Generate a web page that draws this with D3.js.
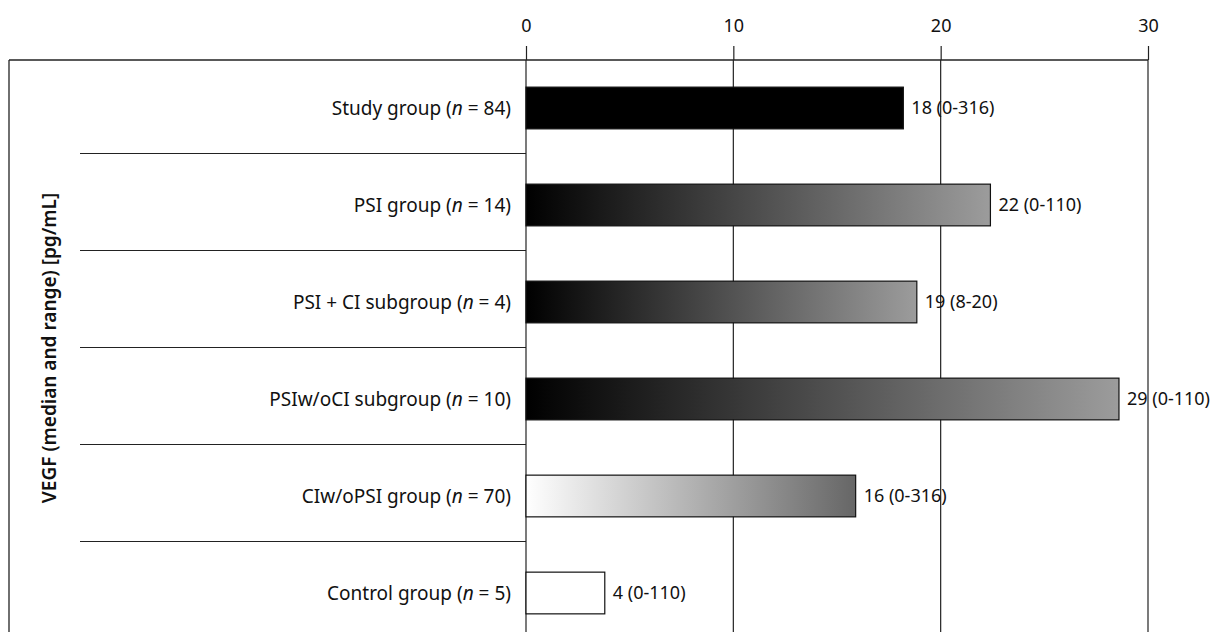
<!DOCTYPE html>
<html>
<head>
<meta charset="utf-8">
<script src="https://cdn.jsdelivr.net/npm/d3@7"></script>
<style>
  body { margin: 0; background: #fff; }
  text { font-family: "Noto Sans", sans-serif; fill: #111; }
</style>
</head>
<body>
<div class="chart"></div>
<script>
const groups = ["Study group", "PSI group", "PSI + CI subgroup", "PSIw/oCI subgroup", "CIw/oPSI group", "Control group"];
const sizes = [84, 14, 4, 10, 70, 5];
const medians = [18.2, 22.4, 18.85, 28.6, 15.9, 3.8];
const valueLabels = ["18 (0-316)", "22 (0-110)", "19 (8-20)", "29 (0-110)", "16 (0-316)", "4 (0-110)"];
const xTicks = [0, 10, 20, 30];
const fills = ["solid", "darkToGrey", "darkToGrey", "darkToGrey", "whiteToGrey", "white"];

const width = 1219, height = 632;
const frameLeft = 9, frameTop = 60;

const svg = d3.select(".chart").append("svg")
  .attr("width", width)
  .attr("height", height);

const defs = svg.append("defs");
const makeGrad = (id, from, to) => {
  const g = defs.append("linearGradient").attr("id", id)
    .attr("x1", "0%").attr("x2", "100%").attr("y1", "0%").attr("y2", "0%");
  g.append("stop").attr("offset", "0%").attr("stop-color", from);
  g.append("stop").attr("offset", "100%").attr("stop-color", to);
};
makeGrad("darkToGrey", "#000", "#9c9c9c");
makeGrad("whiteToGrey", "#fff", "#666");

const fillFor = f => {
  if (f === "solid") return "#000";
  if (f === "white") return "#fff";
  return "url(#" + f + ")";
};

const x = d3.scaleLinear().domain([0, 30]).range([526, 1148]);
const y = d3.scaleBand().domain(groups).range([frameTop - 0.5, frameTop - 0.5 + 6 * 97]).paddingInner(0.57).paddingOuter(0.285);

// frame
svg.append("line")
  .attr("x1", frameLeft).attr("x2", frameLeft)
  .attr("y1", frameTop).attr("y2", height)
  .attr("stroke", "#222").attr("stroke-width", 1.3);
svg.append("line")
  .attr("x1", frameLeft).attr("x2", x(30))
  .attr("y1", frameTop).attr("y2", frameTop)
  .attr("stroke", "#222").attr("stroke-width", 1.3);

// top axis
const axis = svg.append("g")
  .attr("transform", "translate(0," + frameTop + ")")
  .call(d3.axisTop(x).tickValues(xTicks).tickSize(14).tickPadding(14).tickFormat(d3.format("d")));
axis.select(".domain").remove();
axis.selectAll(".tick line").attr("stroke", "#222").attr("stroke-width", 1.2);
axis.selectAll(".tick text").style("font-size", "18px").attr("fill", "#111");

// grid lines
svg.append("g").selectAll("line")
  .data(xTicks)
  .enter()
  .append("line")
  .attr("x1", d => x(d)).attr("x2", d => x(d))
  .attr("y1", frameTop).attr("y2", height)
  .attr("stroke", "#222").attr("stroke-width", 1.2);

// category separators
const step = y.step();
svg.append("g").selectAll("line")
  .data(groups.slice(1))
  .enter()
  .append("line")
  .attr("x1", 80).attr("x2", x(0))
  .attr("y1", d => y(d) - y.paddingInner() * step / 2 - 3)
  .attr("y2", d => y(d) - y.paddingInner() * step / 2 - 3)
  .attr("stroke", "#222").attr("stroke-width", 1.2);

// bars
svg.append("g").selectAll("rect")
  .data(groups)
  .enter()
  .append("rect")
  .attr("x", x(0))
  .attr("y", d => y(d))
  .attr("width", (d, i) => x(medians[i]) - x(0))
  .attr("height", y.bandwidth())
  .attr("fill", (d, i) => fillFor(fills[i]))
  .attr("stroke", "#111")
  .attr("stroke-width", 1.2);

// value labels
svg.append("g").selectAll("text")
  .data(groups)
  .enter()
  .append("text")
  .attr("x", (d, i) => x(medians[i]) + 8)
  .attr("y", d => y(d) + y.bandwidth() / 2)
  .attr("dy", "0.35em")
  .style("font-size", "18px")
  .text((d, i) => valueLabels[i]);

// category labels with italic n
const cat = svg.append("g").selectAll("text")
  .data(groups)
  .enter()
  .append("text")
  .attr("x", x(0) - 15)
  .attr("y", d => y(d) + y.bandwidth() / 2)
  .attr("dy", "0.35em")
  .attr("text-anchor", "end")
  .style("font-size", "19px");
cat.append("tspan").text(d => d + " (");
cat.append("tspan").style("font-style", "italic").text("n");
cat.append("tspan").text((d, i) => " = " + sizes[i] + ")");

// y axis title
svg.append("text")
  .attr("transform", "translate(49,348) rotate(-90)")
  .attr("text-anchor", "middle")
  .attr("dy", "0.35em")
  .style("font-size", "19px")
  .style("font-weight", "600")
  .text("VEGF (median and range) [pg/mL]");
</script>
</body>
</html>
